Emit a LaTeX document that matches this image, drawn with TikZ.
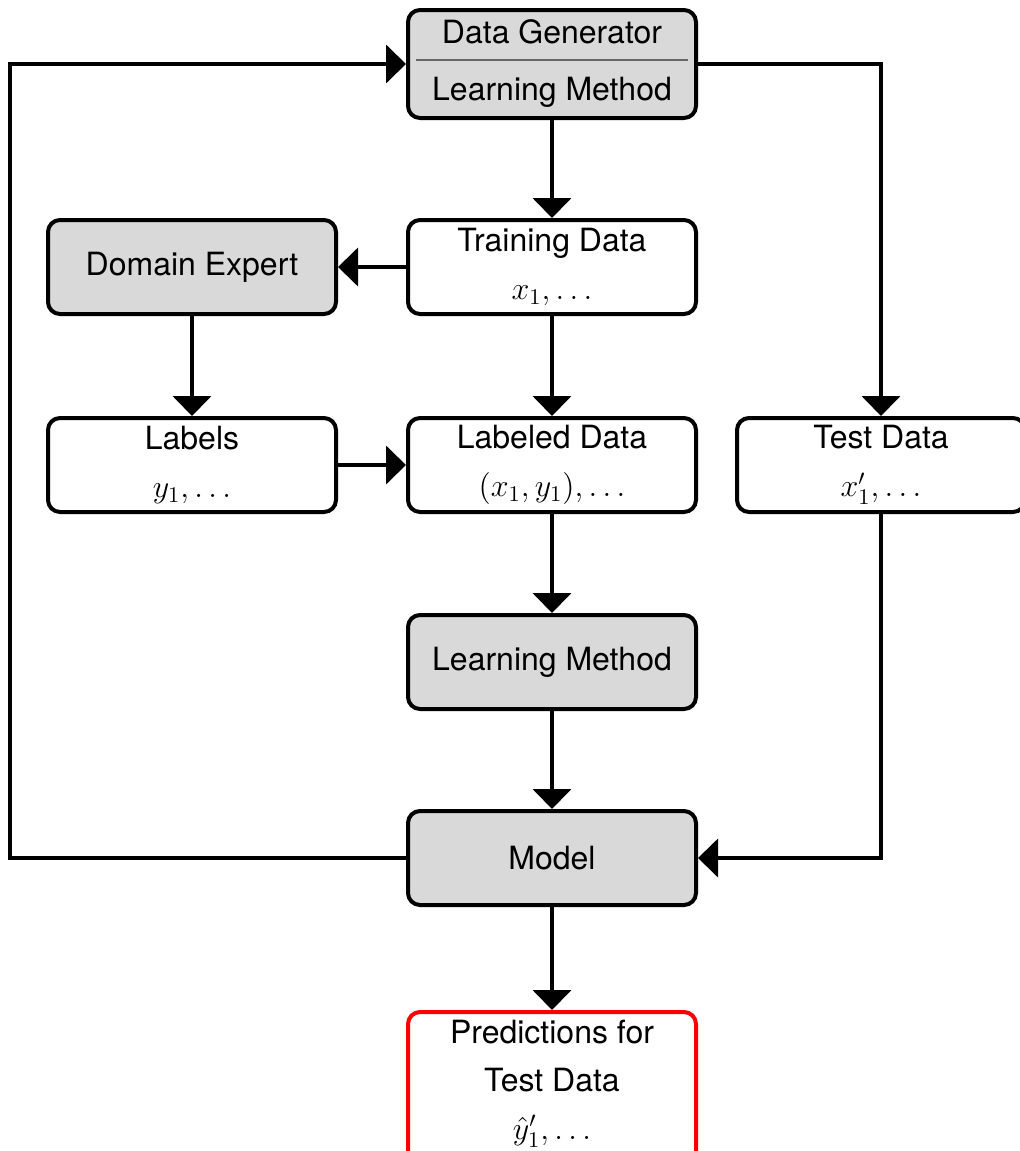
\RequirePackage{fix-cm}
\documentclass[tikz,border=0pt]{standalone}
\usepackage{fontspec}
\setmainfont{TeX Gyre Heros}
\usetikzlibrary{arrows.meta}
\begin{document}
\begin{tikzpicture}[x=0.5pt,y=-0.5pt,
  box/.style={draw=black, line width=2pt, rounded corners=6pt, align=center,
    minimum width=144pt, minimum height=47pt, inner sep=0pt,
    font=\fontsize{16}{24}\selectfont},
  gbox/.style={box, fill=black!15},
  rbox/.style={box, draw=red},
  arr/.style={line width=2pt, -{Triangle[length=10pt,width=19pt]}},
  sepline/.style={draw=black!60, line width=0.6pt}]
\useasboundingbox (0,0) rectangle (1019,1151);
\node[gbox, minimum height=54pt] (top) at (552,64) {Data Generator\\[4.5pt]Learning Method};
\draw[sepline] ([xshift=5pt,yshift=2pt]top.west) -- ([xshift=-5pt,yshift=2pt]top.east);
\node[box] (train) at (552,267) {Training Data\\$x_1,\ldots$};
\node[gbox] (dom) at (192,267) {Domain Expert};
\node[box] (labels) at (192,465) {Labels\\$y_1,\ldots$};
\node[box] (labeled) at (552,465) {Labeled Data\\$(x_1,y_1),\ldots$};
\node[box] (test) at (881,465) {Test Data\\$x'_1,\ldots$};
\node[gbox] (lm) at (552,662) {Learning Method};
\node[gbox] (model) at (552,858) {Model};
\node[rbox, anchor=north, minimum height=0pt, inner ysep=4pt, text depth=40pt] (pred) at (552,1010) {Predictions for\\Test Data\\$\hat{y}'_1,\ldots$};
\coordinate (leftx) at (10,0);
\draw[arr] (top.south) -- (train.north);
\draw[arr] (train.west) -- (dom.east);
\draw[arr] (train.south) -- (labeled.north);
\draw[arr] (dom.south) -- (labels.north);
\draw[arr] (labels.east) -- (labeled.west);
\draw[arr] (labeled.south) -- (lm.north);
\draw[arr] (lm.south) -- (model.north);
\draw[arr] (model.south) -- (pred.north);
\draw[arr] (model.west) -- (model.west -| leftx) |- (top.west);
\draw[arr] (top.east) -| (test.north);
\draw[arr] (test.south) |- (model.east);
\end{tikzpicture}
\end{document}
